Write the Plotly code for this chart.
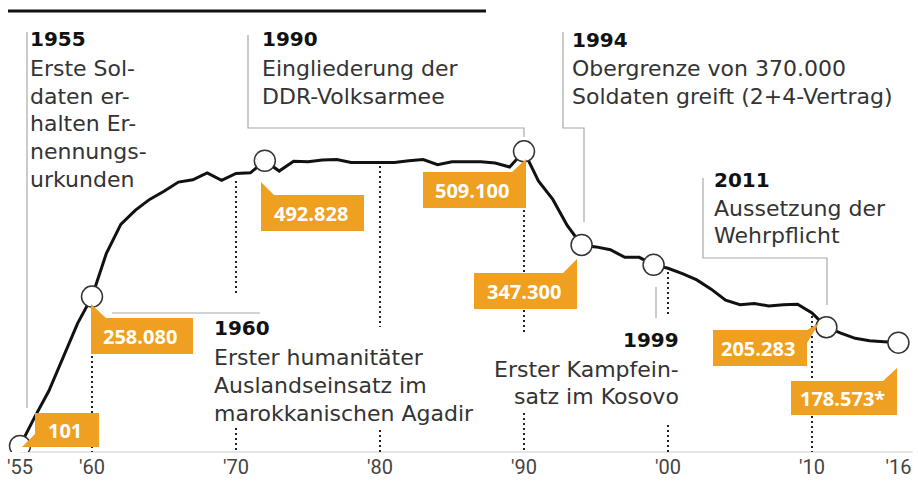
import plotly.graph_objects as go

# ---------------- data ----------------
years = list(range(1955, 2017))
soldiers = [
    101, 49000, 95000, 152000, 212000, 258080,            # 1955-1960
    333000, 383000, 407000, 426000, 440000, 456000,       # 1961-1966
    460000, 472000, 459000, 471000, 472000, 492828,       # 1967-1972
    475000, 492000, 491000, 494000, 495000, 490000,       # 1973-1978
    490000, 489000, 490000, 493000, 495000, 486000,       # 1979-1984
    491000, 491000, 491000, 489000, 482000, 509100,       # 1985-1990
    458000, 426000, 381000, 347300, 344000, 339000,       # 1991-1996
    326000, 326000, 313000, 307000, 298000, 287000,       # 1997-2002
    271000, 252000, 244000, 246000, 242000, 244000,       # 2003-2008
    245000, 230000, 205283, 195000, 186000, 182000,       # 2009-2014
    180000, 178573,                                       # 2015-2016
]
marker_years = [1955, 1960, 1972, 1990, 1994, 1999, 2011, 2016]
label_texts = ["101", "258.080", "492.828", "509.100", "347.300", "205.283", "178.573*"]
tick_years = [1955, 1960, 1970, 1980, 1990, 2000, 2010, 2016]
tick_labels = ["'55", "'60", "'70", "'80", "'90", "'00", "'10", "'16"]

event_years = ["1955", "1990", "1994", "2011", "1960", "1999"]
event_texts = [
    ["Erste Sol-", "daten er-", "halten Er-", "nennungs-", "urkunden"],
    ["Eingliederung der", "DDR-Volksarmee"],
    ["Obergrenze von 370.000", "Soldaten greift (2+4-Vertrag)"],
    ["Aussetzung der", "Wehrpflicht"],
    ["Erster humanitäter", "Auslandseinsatz im", "marokkanischen Agadir"],
    ["Erster Kampfein-", "satz im Kosovo"],
]

marker_vals = [soldiers[years.index(y)] for y in marker_years]

# ---------------- layout helpers ----------------
W, H = 918, 481
PLOT_H = 452
def PX(x):
    return x / W
def PY(y):
    return (PLOT_H - y) / PLOT_H

ORANGE = "#F0A020"
GRAY = "#A8A8A8"
TXT = "#333333"
BODY_FONT = "DejaVu Sans"

fig = go.Figure()
fig.add_trace(go.Scatter(
    x=years, y=soldiers, mode="lines",
    line=dict(color="#111111", width=3), hoverinfo="skip", showlegend=False))
fig.add_trace(go.Scatter(
    x=marker_years, y=marker_vals, mode="markers",
    marker=dict(size=21, color="white", line=dict(color="#333333", width=1.5)),
    hoverinfo="skip", showlegend=False))

shapes = []
# bottom axis line
shapes.append(dict(type="line", xref="x", yref="paper", x0=1955, x1=2017, y0=0, y1=0,
                   line=dict(color="#CCCCCC", width=1), layer="below"))
# top rule
shapes.append(dict(type="line", xref="paper", yref="paper", x0=PX(8), x1=PX(486),
                   y0=PY(11), y1=PY(11), line=dict(color="#111111", width=3)))

# dotted decade guides (pixel y segments)
guide_segments = {
    1960: [(356, 452)],
    1970: [(181, 293), (428, 452)],
    1980: [(166, 327), (430, 452)],
    1990: [(210, 335), (413, 452)],
    2000: [(272, 315), (425, 452)],
    2010: [(316, 452)],
}
for yr, segs in guide_segments.items():
    for a, b in segs:
        shapes.append(dict(type="line", xref="x", yref="paper", x0=yr, x1=yr,
                           y0=PY(a), y1=PY(b), layer="below",
                           line=dict(color="#222222", width=2, dash="2px,3px")))

# gray connector lines (pixel polylines)
connectors = [
    [(27, 32), (27, 408)],
    [(248, 35), (248, 128), (524, 128), (524, 137)],
    [(563, 32), (563, 128), (584, 128), (584, 222)],
    [(703, 178), (703, 258), (827, 258), (827, 305)],
    [(656, 287), (656, 318)],
    [(112, 313), (260, 313)],
]
for pts in connectors:
    path = "M " + " L ".join(f"{PX(x)},{PY(y)}" for x, y in pts)
    shapes.append(dict(type="path", xref="paper", yref="paper", path=path,
                       line=dict(color=GRAY, width=1.2), fillcolor="rgba(0,0,0,0)"))

# orange value boxes (pixel rect + tail)
box_geom = [
    ((35, 413, 99, 447), [(35, 434), (22, 447), (35, 447)]),
    ((91, 318, 193, 354), [(91, 304), (91, 318), (106, 318)]),
    ((261, 195, 364, 231), [(261, 182), (261, 195), (274, 195)]),
    ((423, 172, 526, 208), [(526, 159), (526, 172), (512, 172)]),
    ((474, 273, 577, 309), [(577, 259), (577, 273), (563, 273)]),
    ((713, 330, 807, 366), [(807, 330), (819, 323), (807, 343)]),
    ((791, 381, 897, 415), [(897, 368), (897, 381), (883, 381)]),
]
annotations = []
for (rect, tail), txt in zip(box_geom, label_texts):
    x0, y0, x1, y1 = rect
    shapes.append(dict(type="rect", xref="paper", yref="paper",
                       x0=PX(x0), x1=PX(x1), y0=PY(y0), y1=PY(y1),
                       fillcolor=ORANGE, line=dict(width=0)))
    path = "M " + " L ".join(f"{PX(x)},{PY(y)}" for x, y in tail) + " Z"
    shapes.append(dict(type="path", xref="paper", yref="paper", path=path,
                       fillcolor=ORANGE, line=dict(width=0)))
    annotations.append(dict(
        xref="paper", yref="paper", x=PX((x0 + x1) / 2 - 2), y=PY((y0 + y1) / 2),
        xanchor="center", yanchor="middle", showarrow=False,
        text=f"<b>{txt}</b>",
        font=dict(family="Open Sans", size=20, color="white")))

# event texts: (x, anchor, year mid y, body mid ys)
event_layout = [
    (28, "left", 39, [69, 96.5, 124, 151.5, 179]),
    (260, "left", 39, [69, 96.5]),
    (570, "left", 39.5, [69, 96.7]),
    (712, "left", 179.5, [208.7, 235.5]),
    (212, "left", 328, [357, 385.5, 413]),
    (681, "right", 340, [369, 396.7]),
]
for yr, lines, (x, anc, ymid, lmids) in zip(event_years, event_texts, event_layout):
    annotations.append(dict(
        xref="paper", yref="paper", x=PX(x), y=PY(ymid), xanchor=anc, yanchor="middle",
        showarrow=False, text=f"<b>{yr}</b>",
        font=dict(family=BODY_FONT, size=20, color="#111111")))
    for line, ym in zip(lines, lmids):
        annotations.append(dict(
            xref="paper", yref="paper", x=PX(x), y=PY(ym), xanchor=anc, yanchor="middle",
            showarrow=False, text=line,
            font=dict(family=BODY_FONT, size=22, color=TXT)))

fig.update_layout(
    width=W, height=H,
    margin=dict(l=0, r=0, t=0, b=H - PLOT_H, pad=0, autoexpand=False),
    paper_bgcolor="white", plot_bgcolor="white",
    shapes=shapes, annotations=annotations,
    xaxis=dict(range=[1955 - 20 / 14.4, 1955 + 898 / 14.4], showgrid=False, zeroline=False,
               showline=False, ticks="", tickvals=tick_years, ticktext=tick_labels,
               ticklabelstandoff=1, automargin=False,
               tickfont=dict(family="Roboto", size=20, color="#444444"), fixedrange=True),
    yaxis=dict(range=[(446 - 452) / 0.5788 * 1000, 446 / 0.5788 * 1000], visible=False,
               fixedrange=True, automargin=False),
    showlegend=False,
)
fig.write_html(
    "out.html",
    config={"displayModeBar": False},
    post_script="document.body.style.margin='0';document.body.style.overflow='hidden';",
)
